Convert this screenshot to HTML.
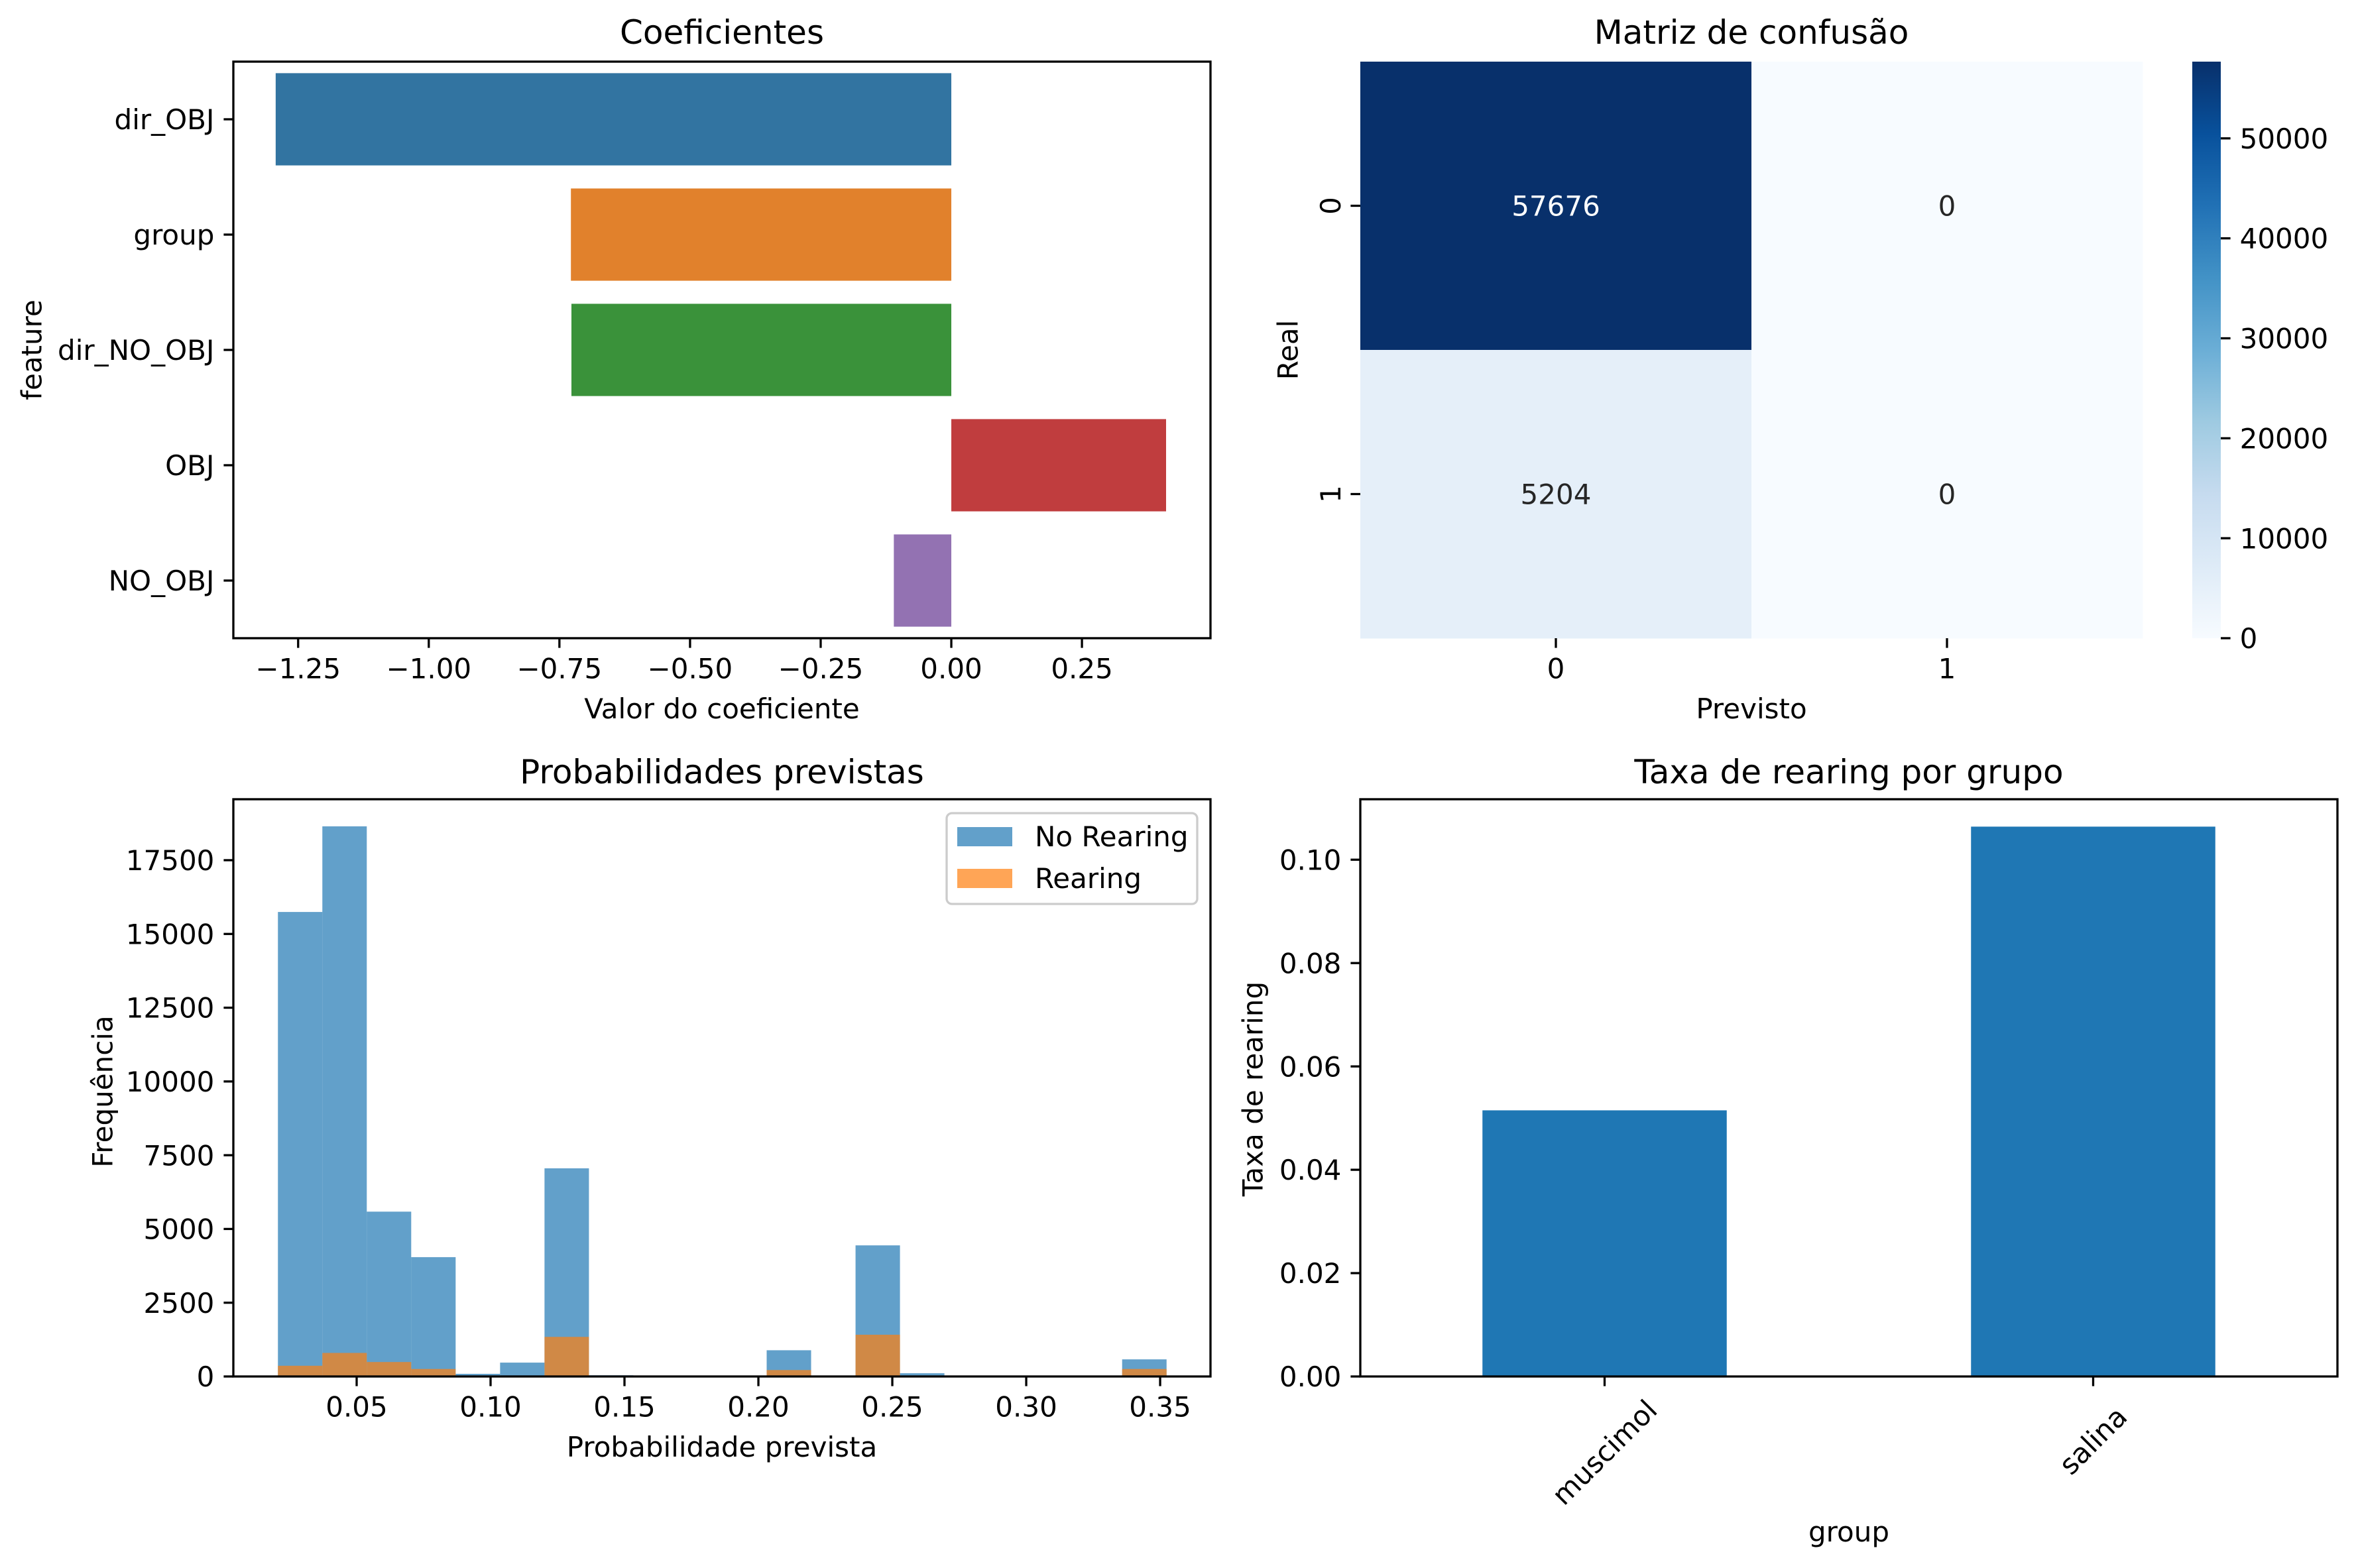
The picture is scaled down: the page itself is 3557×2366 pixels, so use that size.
<!DOCTYPE html>
<html><head><meta charset="utf-8"><style>
html,body{margin:0;padding:0;background:#fff}
svg{display:block}
text{font-family:"DejaVu Sans","Liberation Sans",sans-serif;fill:#000}
</style></head><body>
<svg id="fig" width="3557" height="2366" viewBox="0 0 3557 2366" xmlns="http://www.w3.org/2000/svg">
<defs><linearGradient id="blues" x1="0" y1="1" x2="0" y2="0">
<stop offset="0" stop-color="#f7fbff"/><stop offset="0.125" stop-color="#deebf7"/><stop offset="0.25" stop-color="#c6dbef"/><stop offset="0.375" stop-color="#9ecae1"/><stop offset="0.5" stop-color="#6baed6"/><stop offset="0.625" stop-color="#4292c6"/><stop offset="0.75" stop-color="#2171b5"/><stop offset="0.875" stop-color="#08519c"/><stop offset="1" stop-color="#08306b"/></linearGradient></defs>
</svg>
<script>
// ---- data ----
const coefFeatures = ["dir_OBJ","group","dir_NO_OBJ","OBJ","NO_OBJ"];
const coefValues = [-1.293,-0.728,-0.727,0.411,-0.110];
const coefColors = ["#3274a1","#e1812c","#3a923a","#c03d3e","#9372b2"];
const coefTicks = [-1.25,-1.00,-0.75,-0.50,-0.25,0.00,0.25];
const cmRows = ["0","1"];
const cmCols = ["0","1"];
const cmValues = [[57676,0],[5204,0]];
const cbTicks = [0,10000,20000,30000,40000,50000];
const binStart = 0.0206;
const binWidth = 0.01659;
const noRearing = [15745,18648,5587,4045,90,470,7056,40,0,0,0,889,0,4444,110,0,0,0,0,580];
const rearing = [363,798,490,254,0,0,1342,0,0,0,0,218,0,1415,0,0,0,0,0,254];
const histXTicks = [0.05,0.10,0.15,0.20,0.25,0.30,0.35];
const histYTicks = [0,2500,5000,7500,10000,12500,15000,17500];
const groups = ["muscimol","salina"];
const rates = [0.0515,0.1064];
const rateTicks = [0.00,0.02,0.04,0.06,0.08,0.10];

const svg = document.getElementById('fig');
const NS = "http://www.w3.org/2000/svg";
function mk(tag, attrs, name, txt){
  const e = document.createElementNS(NS, tag);
  for (const k in attrs) e.setAttribute(k, attrs[k]);
  
  
  if (txt !== undefined) e.textContent = txt;
  svg.appendChild(e); return e;
}
const FS = 42, TFS = 50, TL = 14.6, LW = 3.3;
function frame(x0,x1,y0,y1,name){
  mk('rect',{x:x0,y:y0,width:x1-x0,height:y1-y0,fill:'none',stroke:'#000','stroke-width':LW},name);
}
function xtick(x,y,label,name){
  mk('line',{x1:x,x2:x,y1:y,y2:y+TL,stroke:'#000','stroke-width':LW},name+'-tick');
  mk('text',{x:x,y:y+TL+14+FS*0.76,'font-size':FS,'text-anchor':'middle'},name,label);
}
function ytick(x,y,label,name){
  mk('line',{x1:x-TL,x2:x,y1:y,y2:y,stroke:'#000','stroke-width':LW},name+'-tick');
  mk('text',{x:x-TL-14,y:y+FS*0.36,'font-size':FS,'text-anchor':'end'},name,label);
}
function vlabel(x,y,t,name){
  mk('text',{x:x,y:y,'font-size':FS,'text-anchor':'middle',transform:`rotate(-90 ${x} ${y})`,'dominant-baseline':'central'},name,t);
}
const fmt2 = v => (v<0?'\u2212':'')+Math.abs(v).toFixed(2);

// ---- Panel 1: coefficients ----
{
  const L=352,R=1826,T=93,B=963, xmin=-1.374, xmax=0.496;
  const sx = v => L+(v-xmin)/(xmax-xmin)*(R-L);
  const band=(B-T)/coefFeatures.length;
  const sy = i => T+band*(i+0.5);
  coefValues.forEach((v,i)=>{
    const x0=Math.min(sx(0),sx(v)), w=Math.abs(sx(v)-sx(0));
    mk('rect',{x:x0,y:sy(i)-band*0.4,width:w,height:band*0.8,fill:coefColors[i]},'coef-bar-'+coefFeatures[i]);
    ytick(L,sy(i),coefFeatures[i],'coef-ytick-label');
  });
  coefTicks.forEach(t=>xtick(sx(t),B,fmt2(t),'coef-xtick-label'));
  frame(L,R,T,B,'coef-axes');
  mk('text',{x:(L+R)/2,y:66,'font-size':TFS,'text-anchor':'middle'},'coef-title','Coeficientes');
  mk('text',{x:(L+R)/2,y:1084,'font-size':FS,'text-anchor':'middle'},'coef-x-axis-title','Valor do coeficiente');
  vlabel(48,528,'feature','coef-y-axis-title');
}

// ---- Panel 2: confusion matrix ----
{
  const L=2052,R=3232,T=93,B=963;
  const cw=(R-L)/cmCols.length, ch=(B-T)/cmRows.length;
  const vmax=Math.max(...cmValues.flat());
  const stops=["#f7fbff","#deebf7","#c6dbef","#9ecae1","#6baed6","#4292c6","#2171b5","#08519c","#08306b"].map(h=>[1,3,5].map(i=>parseInt(h.substr(i,2),16)));
  const cmap = f=>{const p=f*8,i=Math.min(7,Math.floor(p)),r=p-i;const c=stops[i].map((a,k)=>Math.round(a+(stops[i+1][k]-a)*r));return `rgb(${c})`;};
  cmValues.forEach((row,i)=>row.forEach((v,j)=>{
    const f=v/vmax;
    mk('rect',{x:L+j*cw,y:T+i*ch,width:cw+0.5,height:ch+0.5,fill:cmap(f)},`cm-cell-${i}-${j}`);
    mk('text',{x:L+(j+0.5)*cw,y:T+(i+0.5)*ch+FS*0.36,'font-size':FS,'text-anchor':'middle',style:'fill:'+(f>0.5?'#fff':'#262626')},`cm-value-${i}-${j}`,String(v));
  }));
  cmCols.forEach((c,j)=>xtick(L+(j+0.5)*cw,B,c,'cm-xtick-label'));
  cmRows.forEach((r,i)=>{
    const y=T+(i+0.5)*ch;
    mk('line',{x1:L-TL,x2:L,y1:y,y2:y,stroke:'#000','stroke-width':LW},'cm-ytick');
    vlabel(L-TL-30,y,r,'cm-ytick-label');
  });
  mk('text',{x:(L+R)/2,y:66,'font-size':TFS,'text-anchor':'middle'},'cm-title','Matriz de confusão');
  mk('text',{x:(L+R)/2,y:1084,'font-size':FS,'text-anchor':'middle'},'cm-x-axis-title','Previsto');
  vlabel(1943,528,'Real','cm-y-axis-title');
  // colorbar
  const cL=3307,cR=3350;
  mk('rect',{x:cL,y:T,width:cR-cL,height:B-T,fill:'url(#blues)'},'colorbar');
  cbTicks.forEach(t=>{
    const y=B-(t/vmax)*(B-T);
    mk('line',{x1:cR,x2:cR+TL,y1:y,y2:y,stroke:'#000','stroke-width':LW},'colorbar-tick');
    mk('text',{x:cR+TL+14,y:y+FS*0.36,'font-size':FS},'colorbar-tick-label',String(t));
  });
}

// ---- Panel 3: histogram ----
{
  const L=352,R=1826,T=1206,B=2077, xmin=0.00396,xmax=0.3688, ymax=19566;
  const sx=v=>L+(v-xmin)/(xmax-xmin)*(R-L);
  const sy=v=>B-v/ymax*(B-T);
  noRearing.forEach((v,i)=>{ if(v>0){const a=binStart+i*binWidth;
    mk('rect',{x:sx(a),y:sy(v),width:sx(a+binWidth)-sx(a),height:B-sy(v),fill:'#1f77b4','fill-opacity':0.7},'hist-bar-no-rearing');}});
  rearing.forEach((v,i)=>{ if(v>0){const a=binStart+i*binWidth;
    mk('rect',{x:sx(a),y:sy(v),width:sx(a+binWidth)-sx(a),height:B-sy(v),fill:'#ff7f0e','fill-opacity':0.7},'hist-bar-rearing');}});
  histXTicks.forEach(t=>xtick(sx(t),B,t.toFixed(2),'hist-xtick-label'));
  histYTicks.forEach(t=>ytick(L,sy(t),String(t),'hist-ytick-label'));
  frame(L,R,T,B,'hist-axes');
  mk('text',{x:(L+R)/2,y:1182,'font-size':TFS,'text-anchor':'middle'},'hist-title','Probabilidades previstas');
  mk('text',{x:(L+R)/2,y:2198,'font-size':FS,'text-anchor':'middle'},'hist-x-axis-title','Probabilidade prevista');
  vlabel(155,1647,'Frequência','hist-y-axis-title');
  // legend
  mk('rect',{x:1428,y:1227,width:378,height:137,rx:8,fill:'#fff','fill-opacity':0.8,stroke:'#ccc','stroke-width':3.3},'legend');
  mk('rect',{x:1444,y:1248,width:83,height:29,fill:'#1f77b4','fill-opacity':0.7},'legend-swatch-no-rearing');
  mk('text',{x:1561,y:1277,'font-size':FS},'legend-label-no-rearing','No Rearing');
  mk('rect',{x:1444,y:1311,width:83,height:29,fill:'#ff7f0e','fill-opacity':0.7},'legend-swatch-rearing');
  mk('text',{x:1561,y:1340,'font-size':FS},'legend-label-rearing','Rearing');
}

// ---- Panel 4: rate per group ----
{
  const L=2052,R=3526,T=1206,B=2077, ymax=0.1117;
  const band=(R-L)/groups.length;
  const sx=i=>L+band*(i+0.5);
  const sy=v=>B-v/ymax*(B-T);
  rates.forEach((v,i)=>{
    mk('rect',{x:sx(i)-band*0.25,y:sy(v),width:band*0.5,height:B-sy(v),fill:'#1f77b4'},'rate-bar-'+groups[i]);
    mk('line',{x1:sx(i),x2:sx(i),y1:B,y2:B+TL,stroke:'#000','stroke-width':LW},'rate-xtick');
    const cx=sx(i), cy=B+TL+14+groups[i].length*FS*0.6*0.354+FS*0.35;
    mk('text',{x:cx,y:cy,'font-size':FS,'text-anchor':'middle','dominant-baseline':'central',transform:`rotate(-45 ${cx} ${cy})`},'rate-xtick-label',groups[i]);
  });
  rateTicks.forEach(t=>ytick(L,sy(t),t.toFixed(2),'rate-ytick-label'));
  frame(L,R,T,B,'rate-axes');
  mk('text',{x:(L+R)/2,y:1182,'font-size':TFS,'text-anchor':'middle'},'rate-title','Taxa de rearing por grupo');
  mk('text',{x:(L+R)/2,y:2326,'font-size':FS,'text-anchor':'middle'},'rate-x-axis-title','group');
  vlabel(1890,1643,'Taxa de rearing','rate-y-axis-title');
}
</script>
</body></html>
